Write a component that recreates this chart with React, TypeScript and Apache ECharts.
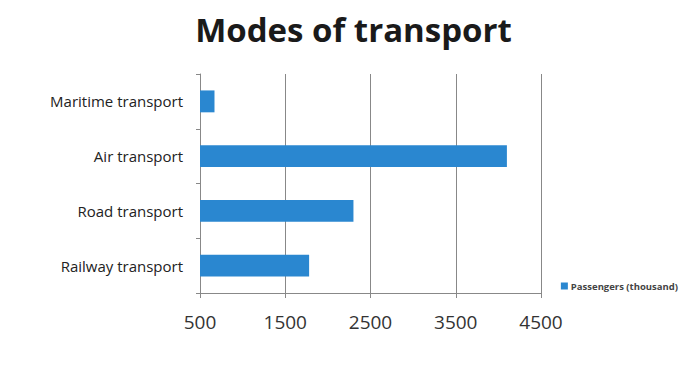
import React, { useEffect, useRef } from "react";
import * as echarts from "echarts";

const categories = ["Railway transport", "Road transport", "Air transport", "Maritime transport"];
const passengers = [1780, 2300, 4100, 670];
const seriesName = "Passengers (thousand)";
const xMin = 500;
const xMax = 4500;
const xInterval = 1000;

export default function App() {
  const ref = useRef<HTMLDivElement>(null);
  useEffect(() => {
    if (!ref.current) return;
    const chart = echarts.init(ref.current, null, { renderer: "svg" });
    chart.setOption({
      animation: false,
      backgroundColor: "#ffffff",
      title: {
        text: "Modes of transport",
        left: "center",
        top: 1,
        padding: 0,
        textStyle: { fontFamily: "Open Sans", fontWeight: "bold", fontSize: 33, lineHeight: 40, color: "#1a1a1a" },
      },
      legend: {
        right: 16,
        top: 268,
        orient: "vertical",
        itemWidth: 7,
        itemHeight: 7,
        itemGap: 4,
        icon: "rect",
        textStyle: { fontFamily: "Open Sans", fontSize: 9.5, fontWeight: "bold", color: "#444", padding: [0, 0, 0, -2] },
        data: [seriesName],
      },
      grid: { left: 192, right: 158, top: 66, bottom: 95, containLabel: false },
      xAxis: {
        type: "value",
        min: xMin,
        max: xMax,
        interval: xInterval,
        axisLine: { show: true, lineStyle: { color: "#888", width: 1 } },
        axisTick: { show: true, length: 5, lineStyle: { color: "#888" } },
        splitLine: { show: true, lineStyle: { color: "#888", width: 1 } },
        axisLabel: {
          fontFamily: "Open Sans",
          fontSize: 19,
          color: "#333",
          margin: 19,
          formatter: (v: number) => String(v),
        },
      },
      yAxis: {
        type: "category",
        data: categories,
        axisLine: { show: true, lineStyle: { color: "#888", width: 1 } },
        axisTick: { show: true, length: 4, lineStyle: { color: "#888" } },
        axisLabel: { fontFamily: "Open Sans", fontSize: 15, color: "#222", margin: 17 },
      },
      series: [
        {
          name: seriesName,
          type: "bar",
          data: passengers,
          barCategoryGap: "60%",
          itemStyle: { color: "#2a87d0" },
        },
      ],
    });
    return () => chart.dispose();
  }, []);
  return <div ref={ref} style={{ width: 691, height: 380 }} />;
}
